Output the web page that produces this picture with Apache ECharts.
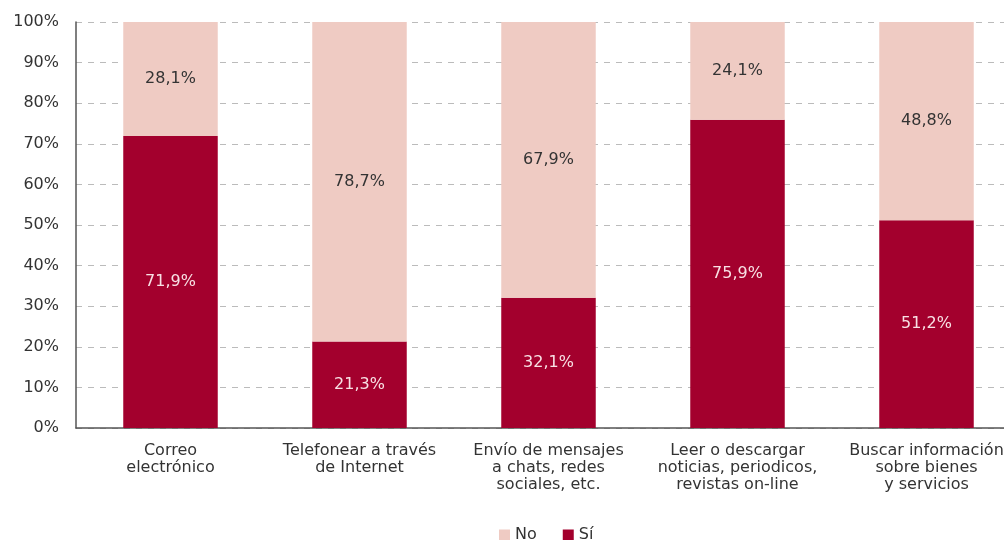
<!DOCTYPE html>
<html><head><meta charset="utf-8">
<script src="https://cdn.jsdelivr.net/npm/echarts@6/dist/echarts.min.js"></script>
<style>html,body{margin:0;padding:0;background:#fff}#c{width:1004px;height:540px}</style>
</head><body><div id="c"></div>
<script>
const categories = ['Correo\nelectrónico','Telefonear a través\nde Internet','Envío de mensajes\na chats, redes\nsociales, etc.','Leer o descargar\nnoticias, periodicos,\nrevistas on-line','Buscar información\nsobre bienes\ny servicios'];
const si = [71.9, 21.3, 32.1, 75.9, 51.2];
const no = [28.1, 78.7, 67.9, 24.1, 48.8];
const yTicks = [0,10,20,30,40,50,60,70,80,90,100];

const font = 'DejaVu Sans, Verdana, sans-serif';
const fmt = p => p.value.toFixed(1).replace('.', ',') + '%';
const chart = echarts.init(document.getElementById('c'));
chart.setOption({
  animation: false,
  grid: {left: 76, width: 945, top: 22, bottom: 112, outerBoundsMode: 'none', containLabel: false},
  legend: {
    top: 522, left: 494, itemWidth: 11, itemHeight: 11, itemGap: 26,
    icon: 'rect',
    textStyle: {fontFamily: font, fontSize: 16, color: '#333'},
    data: ['No', 'Sí']
  },
  xAxis: {
    type: 'category', data: categories,
    axisLine: {lineStyle: {color: '#555', width: 1.5}},
    axisTick: {show: false},
    axisLabel: {fontFamily: font, fontSize: 16, color: '#333', lineHeight: 17, margin: 14, interval: 0}
  },
  yAxis: {
    type: 'value', min: 0, max: 100, interval: 10,
    axisLine: {show: true, lineStyle: {color: '#555', width: 1.5}},
    axisTick: {show: false},
    axisLabel: {fontFamily: font, fontSize: 16, color: '#333', margin: 17, formatter: v => yTicks.includes(v) ? v + '%' : ''},
    splitLine: {lineStyle: {color: '#bbb', type: [6, 6], width: 1}}
  },
  series: [
    {name: 'Sí', type: 'bar', stack: 's', data: si, barWidth: '50%',
     itemStyle: {color: '#A3002D'},
     label: {show: true, position: 'inside', formatter: fmt, fontFamily: font, fontSize: 16, color: '#f8e0e4'}},
    {name: 'No', type: 'bar', stack: 's', data: no, barWidth: '50%',
     itemStyle: {color: '#EFCBC3'},
     label: {show: true, position: 'inside', formatter: fmt, fontFamily: font, fontSize: 16, color: '#333'}}
  ]
});
</script></body></html>
